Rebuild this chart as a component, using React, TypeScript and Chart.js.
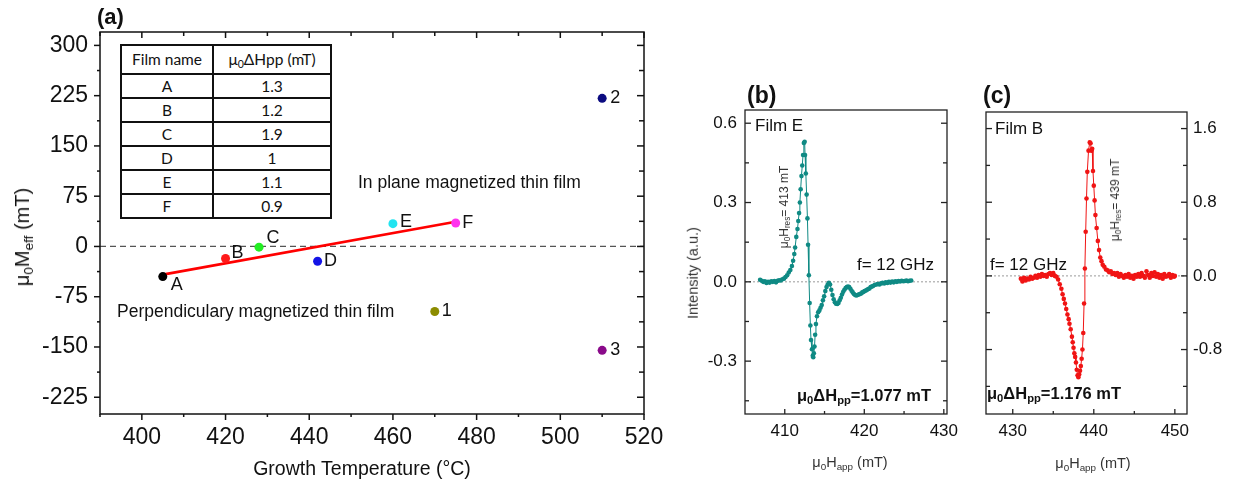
import React, { useEffect, useRef } from 'react';
import { Chart, registerables } from 'chart.js';

Chart.register(...registerables);

const FONT = "'Liberation Sans', Arial, Helvetica, sans-serif";
const TABLE_FONT = "Lato, 'Open Sans', sans-serif";

// ---------------- Panel (a) data ----------------
const filmNames = ['A', 'B', 'C', 'D', 'E', 'F', '1', '2', '3'];
const growthTemp = [405, 420, 428, 442, 460, 475, 470, 510, 510];
const mEff = [-45, -18, -1, -22, 34, 35, -97, 221, -155];
const pointColors = ['#000000', '#ff1a1a', '#22ee22', '#1414e6', '#22e4f0', '#ff33ee', '#8c8c00', '#0b0b80', '#8a0a8a'];
const fitTemp = [405, 475];
const fitMEff = [-42, 37];
const aXTicks = [400, 420, 440, 460, 480, 500, 520];
const aXMinor = [390, 410, 430, 450, 470, 490, 510];
const aYTicks = [-225, -150, -75, 0, 75, 150, 225, 300];
const aYMinor = [-187.5, -112.5, -37.5, 37.5, 112.5, 187.5, 262.5];
const aXRange = [390, 520];
const aYRange = [-250, 320];

const tableFilms = ['A', 'B', 'C', 'D', 'E', 'F'];
const tableWidths = ['1.3', '1.2', '1.9', '1', '1.1', '0.9'];

// ---------------- Panel (b) data : Film E ----------------
const filmEField = [
  406.9, 407.1, 407.3, 407.5, 407.7, 407.9, 408.1, 408.3, 408.5, 408.7, 408.9, 409.1, 409.3, 409.5,
  409.7, 409.9, 410.1, 410.3, 410.5, 410.7, 410.9, 411.05, 411.2, 411.3, 411.45, 411.6, 411.7, 411.8,
  411.9, 412.0, 412.1, 412.2, 412.3, 412.4, 412.5, 412.55, 412.65, 412.75, 412.85, 412.93, 413.03,
  413.13, 413.22, 413.3, 413.42, 413.52, 413.58, 413.66, 413.74, 413.82, 413.92, 414.05, 414.2, 414.35,
  414.5, 414.65, 414.8, 414.95, 415.1, 415.25, 415.4, 415.55, 415.7, 415.85, 416.0, 416.15, 416.3,
  416.45, 416.6, 416.75, 416.9, 417.05, 417.2, 417.35, 417.5, 417.65, 417.8, 417.95, 418.1, 418.25,
  418.4, 418.55, 418.7, 418.85, 419.0, 419.15, 419.3, 419.45, 419.6, 419.75, 419.9, 420.05, 420.2,
  420.35, 420.5, 420.65, 420.8, 420.95, 421.1, 421.3, 421.5, 421.7, 421.9, 422.1, 422.3, 422.5, 422.7,
  422.9, 423.1, 423.3, 423.5, 423.7, 423.9, 424.1, 424.3, 424.5, 424.7, 424.9, 425.1, 425.3, 425.5,
  425.7, 425.9,
];
const filmEIntensity = [
  0.008, 0.004, 0.0, 0.002, -0.004, 0.0, -0.003, 0.002, 0.0, 0.003, -0.002, 0.004, 0.006, 0.005,
  0.01, 0.012, 0.018, 0.025, 0.035, 0.045, 0.06, 0.08, 0.105, 0.13, 0.17, 0.2, 0.23, 0.26,
  0.3, 0.35, 0.4, 0.44, 0.48, 0.525, 0.53, 0.48, 0.41, 0.33, 0.24, 0.14, 0.025,
  -0.08, -0.165, -0.22, -0.255, -0.28, -0.285, -0.27, -0.245, -0.2, -0.16, -0.13, -0.115, -0.108,
  -0.098, -0.088, -0.07, -0.055, -0.035, -0.02, -0.01, -0.004, -0.01, -0.03, -0.05, -0.066, -0.077,
  -0.083, -0.084, -0.08, -0.07, -0.06, -0.048, -0.038, -0.03, -0.024, -0.02, -0.018, -0.02, -0.026,
  -0.034, -0.04, -0.046, -0.05, -0.052, -0.05, -0.048, -0.046, -0.044, -0.04, -0.038, -0.035, -0.033,
  -0.03, -0.027, -0.025, -0.02, -0.018, -0.016, -0.012, -0.01, -0.008, -0.01, -0.006, -0.004, -0.006, -0.002,
  -0.004, 0.0, -0.003, 0.001, -0.002, 0.002, 0.0, 0.003, 0.001, 0.004, 0.002, 0.003, 0.005, 0.002,
  0.004, 0.005,
];
const bXTicks = [410, 420, 430];
const bXMinor = [415, 425];
const bYTicks = [-0.3, 0, 0.3, 0.6];
const bYMinor = [-0.45, -0.15, 0.15, 0.45];
const bXRange = [405, 430.4];
const bYRange = [-0.5, 0.65];

// ---------------- Panel (c) data : Film B ----------------
const filmBField = [
  431.0, 431.2, 431.4, 431.6, 431.8, 432.0, 432.2, 432.4, 432.6, 432.8, 433.0, 433.2, 433.4, 433.6,
  433.8, 434.0, 434.2, 434.4, 434.6, 434.8, 435.0, 435.2, 435.4, 435.6, 435.8, 436.0, 436.15, 436.3,
  436.45, 436.6, 436.75, 436.9, 437.0, 437.15, 437.3, 437.4, 437.5, 437.6, 437.7, 437.8, 437.9, 438.0,
  438.1, 438.2, 438.3, 438.4, 438.5, 438.6, 438.7, 438.8, 438.9, 439.0, 439.1, 439.2, 439.35, 439.5,
  439.6, 439.7, 439.8, 439.9, 440.0, 440.1, 440.2, 440.35, 440.5, 440.65, 440.8, 440.95, 441.1, 441.3,
  441.5, 441.7, 441.9, 442.1, 442.3, 442.5, 442.7, 442.9, 443.1, 443.3, 443.5, 443.7, 443.9, 444.1,
  444.3, 444.5, 444.7, 444.9, 445.1, 445.3, 445.5, 445.7, 445.9, 446.1, 446.3, 446.5, 446.7, 446.9,
  447.1, 447.3, 447.5, 447.7, 447.9, 448.1, 448.3, 448.5, 448.7, 448.9, 449.1, 449.3, 449.5, 449.7,
  449.9, 450.0,
];
const filmBIntensity = [
  -0.03, -0.06, -0.02, -0.05, -0.03, -0.04, -0.01, -0.03, -0.02, 0.0, -0.02, 0.01, -0.01, 0.02,
  0.0, 0.01, -0.01, 0.02, 0.03, 0.01, 0.03, 0.0, -0.01, -0.04, -0.09, -0.14, -0.2, -0.25,
  -0.3, -0.36, -0.42, -0.47, -0.52, -0.58, -0.66, -0.72, -0.78, -0.84, -0.88, -0.94, -1.02, -1.08,
  -1.1, -1.07, -1.03, -0.98, -0.9, -0.8, -0.62, -0.3, 0.08, 0.48, 0.84, 1.13, 1.36, 1.45,
  1.44, 1.36, 1.38, 1.14, 0.98, 0.82, 0.66, 0.52, 0.38, 0.28, 0.2, 0.16, 0.12, 0.1,
  0.07, 0.06, 0.04, 0.05, 0.02, 0.03, 0.01, 0.03, -0.01, 0.02, 0.0, -0.02, 0.01, -0.01,
  0.02, -0.02, 0.0, -0.03, 0.01, -0.01, 0.02, -0.01, 0.03, 0.0, -0.02, 0.05, 0.01, -0.02,
  0.03, 0.0, 0.04, -0.01, 0.02, -0.02, 0.01, -0.03, 0.02, -0.01, 0.0, 0.02, -0.02, 0.01,
  -0.01, 0.0,
];
const cXTicks = [430, 440, 450];
const cXMinor = [435, 445];
const cYTicks = [-0.8, 0, 0.8, 1.6];
const cYMinor = [-1.2, -0.4, 0.4, 1.2];
const cXRange = [426.7, 451.5];
const cYRange = [-1.5, 1.78];

// label offsets for panel (a) point names (style, not data)
const labelOffsets: [number, number][] = [
  [14, 8], [12, -5], [14, -9], [13, 0], [13, -2], [12, 0], [12, 0], [13, 0], [13, 0],
];

type Side = {
  axis: string;
  pos: 'left' | 'right' | 'top' | 'bottom';
  major: number[];
  minor: number[];
  dir: 'in' | 'out';
  majorLen: number;
  minorLen: number;
};

function framePlugin(id: string, sides: Side[], lineWidth: number, color: string) {
  return {
    id,
    afterDraw(chart: any) {
      const { ctx, chartArea: a } = chart;
      ctx.save();
      ctx.strokeStyle = color;
      ctx.lineWidth = lineWidth;
      ctx.strokeRect(a.left, a.top, a.right - a.left, a.bottom - a.top);
      for (const s of sides) {
        const scale = chart.scales[s.axis];
        const draw = (v: number, len: number) => {
          const p = scale.getPixelForValue(v);
          ctx.beginPath();
          if (s.pos === 'left') {
            const d = s.dir === 'in' ? len : -len;
            ctx.moveTo(a.left, p);
            ctx.lineTo(a.left + d, p);
          } else if (s.pos === 'right') {
            const d = s.dir === 'in' ? -len : len;
            ctx.moveTo(a.right, p);
            ctx.lineTo(a.right + d, p);
          } else if (s.pos === 'top') {
            const d = s.dir === 'in' ? len : -len;
            ctx.moveTo(p, a.top);
            ctx.lineTo(p, a.top + d);
          } else {
            const d = s.dir === 'in' ? -len : len;
            ctx.moveTo(p, a.bottom);
            ctx.lineTo(p, a.bottom + d);
          }
          ctx.stroke();
        };
        s.major.forEach((v) => draw(v, s.majorLen));
        s.minor.forEach((v) => draw(v, s.minorLen));
      }
      ctx.restore();
    },
  };
}

function linScale(o: {
  min: number;
  max: number;
  ticks: number[];
  fmt: (v: number) => string;
  size: number;
  pad: number;
  position: string;
  fitW?: number;
  fitH?: number;
}) {
  return {
    type: 'linear',
    position: o.position,
    min: o.min,
    max: o.max,
    grid: { display: false, drawTicks: false },
    border: { display: false },
    ticks: {
      autoSkip: false,
      maxRotation: 0,
      minRotation: 0,
      padding: o.pad,
      color: '#111',
      font: { family: FONT, size: o.size },
      callback: (v: any) => o.fmt(Number(v)),
    },
    afterBuildTicks: (s: any) => {
      s.ticks = o.ticks.map((v) => ({ value: v }));
    },
    afterFit: (s: any) => {
      if (o.fitW != null) s.width = o.fitW;
      if (o.fitH != null) s.height = o.fitH;
      s.paddingLeft = 0;
      s.paddingRight = 0;
      s.paddingTop = 0;
      s.paddingBottom = 0;
    },
  };
}

const baseOptions = {
  responsive: false,
  animation: false,
  events: [],
  plugins: { legend: { display: false }, tooltip: { enabled: false } },
};

function configA() {
  const points = growthTemp.map((x, i) => ({ x, y: mEff[i] }));
  const fit = fitTemp.map((x, i) => ({ x, y: fitMEff[i] }));
  const zero = aXRange.map((x) => ({ x, y: 0 }));
  const labels = {
    id: 'pointLabels',
    afterDatasetsDraw(chart: any) {
      const { ctx } = chart;
      const meta = chart.getDatasetMeta(0);
      ctx.save();
      ctx.font = `18px ${FONT}`;
      ctx.fillStyle = '#111';
      ctx.textAlign = 'center';
      ctx.textBaseline = 'middle';
      meta.data.forEach((el: any, i: number) => {
        const [dx, dy] = labelOffsets[i];
        ctx.fillText(filmNames[i], el.x + dx, el.y + dy);
      });
      ctx.restore();
    },
  };
  return {
    type: 'scatter',
    data: {
      datasets: [
        { data: points, pointRadius: 4.5, pointBackgroundColor: pointColors, pointBorderWidth: 0, showLine: false },
        { data: fit, showLine: true, borderColor: '#ff0000', borderWidth: 2.6, pointRadius: 0 },
        { data: zero, showLine: true, borderColor: '#555', borderWidth: 1.3, borderDash: [6, 4], pointRadius: 0 },
      ],
    },
    options: {
      ...baseOptions,
      layout: { padding: { top: 32, right: 36, left: 0, bottom: 0 } },
      scales: {
        x: linScale({ min: aXRange[0], max: aXRange[1], ticks: aXTicks, fmt: (v) => String(v), size: 23, pad: 10, position: 'bottom', fitH: 72 }),
        y: linScale({ min: aYRange[0], max: aYRange[1], ticks: aYTicks, fmt: (v) => String(v), size: 23, pad: 12, position: 'left', fitW: 100 }),
      },
    },
    plugins: [
      framePlugin('frameA', [
        { axis: 'y', pos: 'left', major: aYTicks, minor: aYMinor, dir: 'out', majorLen: 6, minorLen: 3 },
        { axis: 'y', pos: 'right', major: aYTicks, minor: aYMinor, dir: 'in', majorLen: 7, minorLen: 5 },
        { axis: 'x', pos: 'top', major: aXTicks, minor: aXMinor, dir: 'in', majorLen: 6, minorLen: 4 },
        { axis: 'x', pos: 'bottom', major: aXTicks, minor: aXMinor, dir: 'out', majorLen: 6, minorLen: 3 },
      ], 1.5, '#111'),
      labels,
    ],
  };
}

function configSpectrum(
  field: number[], intensity: number[], color: string,
  xr: number[], yr: number[], xt: number[], xm: number[], yt: number[], ym: number[],
  yPos: string, padding: any, yFitW: number, id: string,
) {
  const pts = field.map((x, i) => ({ x, y: intensity[i] }));
  const zero = xr.map((x) => ({ x, y: 0 }));
  return {
    type: 'scatter',
    data: {
      datasets: [
        { data: pts, showLine: true, borderColor: color, borderWidth: 1, pointRadius: 2.3, pointBackgroundColor: color, pointBorderWidth: 0 },
        { data: zero, showLine: true, borderColor: '#9a9a9a', borderWidth: 1, borderDash: [2, 2], pointRadius: 0 },
      ],
    },
    options: {
      ...baseOptions,
      layout: { padding },
      scales: {
        x: linScale({ min: xr[0], max: xr[1], ticks: xt, fmt: (v) => String(v), size: 17, pad: 7, position: 'bottom', fitH: 72 }),
        y: linScale({ min: yr[0], max: yr[1], ticks: yt, fmt: (v) => v.toFixed(1), size: 17, pad: yPos === 'left' ? 8 : 6, position: yPos, fitW: yFitW }),
      },
    },
    plugins: [
      framePlugin(id, [
        { axis: 'y', pos: 'left', major: yt, minor: ym, dir: 'in', majorLen: 6, minorLen: 4 },
        { axis: 'y', pos: 'right', major: yt, minor: ym, dir: 'in', majorLen: 6, minorLen: 4 },
        { axis: 'x', pos: 'bottom', major: xt, minor: xm, dir: 'in', majorLen: 5, minorLen: 3 },
      ], 1.3, '#222'),
    ],
  };
}

function ChartCanvas({ make, left, width }: { make: () => any; left: number; width: number }) {
  const ref = useRef<HTMLCanvasElement | null>(null);
  useEffect(() => {
    if (!ref.current) return;
    const c = new Chart(ref.current, make());
    return () => c.destroy();
  }, []);
  return (
    <canvas
      ref={ref}
      width={width}
      height={486}
      style={{ position: 'absolute', left, top: 0, width, height: 486 }}
    />
  );
}

const sub = (t: string) => (
  <sub style={{ fontSize: '0.68em', verticalAlign: '-0.28em', lineHeight: 0 }}>{t}</sub>
);

function Txt({ x, y, children, size, bold, rotate, color, center, family }: any) {
  return (
    <div
      style={{
        position: 'absolute',
        left: x,
        top: y,
        transform: `translate(${center ? '-50%' : '0'}, -50%)${rotate ? ' rotate(-90deg)' : ''}`,
        transformOrigin: center ? 'center center' : 'left center',
        whiteSpace: 'nowrap',
        fontFamily: family || FONT,
        fontSize: size,
        fontWeight: bold ? 'bold' : 'normal',
        color: color || '#111',
        lineHeight: 1,
      }}
    >
      {children}
    </div>
  );
}

function DataTable() {
  const cell: any = {
    border: '2px solid #111',
    textAlign: 'center',
    padding: 0,
    fontFamily: TABLE_FONT,
    fontSize: 15.5,
    color: '#111',
    height: 22,
    lineHeight: '22px',
  };
  return (
    <table
      style={{
        position: 'absolute',
        left: 120,
        top: 44,
        width: 212,
        borderCollapse: 'collapse',
        background: '#fff',
      }}
    >
      <tbody>
        <tr>
          <td style={{ ...cell, width: 90, height: 27, lineHeight: '27px' }}>Film name</td>
          <td style={{ ...cell, height: 27, lineHeight: '27px' }}>
            μ{sub('0')}ΔHpp (mT)
          </td>
        </tr>
        {tableFilms.map((f, i) => (
          <tr key={f}>
            <td style={cell}>{f}</td>
            <td style={cell}>{tableWidths[i]}</td>
          </tr>
        ))}
      </tbody>
    </table>
  );
}

export default function App() {
  return (
    <div
      style={{
        position: 'fixed',
        left: 0,
        top: 0,
        width: 1236,
        height: 486,
        background: '#fff',
        overflow: 'hidden',
      }}
    >
      <ChartCanvas make={configA} left={0} width={680} />
      <ChartCanvas
        make={() =>
          configSpectrum(filmEField, filmEIntensity, '#0f8a84', bXRange, bYRange, bXTicks, bXMinor, bYTicks, bYMinor,
            'left', { top: 110, right: 23, left: 0, bottom: 0 }, 85, 'frameB')
        }
        left={660}
        width={310}
      />
      <ChartCanvas
        make={() =>
          configSpectrum(filmBField, filmBIntensity, '#f01414', cXRange, cYRange, cXTicks, cXMinor, cYTicks, cYMinor,
            'right', { top: 112, right: 0, left: 30, bottom: 0 }, 49, 'frameC')
        }
        left={956}
        width={280}
      />

      <DataTable />

      {/* panel (a) texts */}
      <Txt x={97} y={17} size={22} bold>(a)</Txt>
      <Txt x={22} y={237} size={20} rotate center>
        μ{sub('0')}M{sub('eff')} (mT)
      </Txt>
      <Txt x={362} y={469} size={19.5} center>Growth Temperature (°C)</Txt>
      <Txt x={358} y={183} size={17.5}>In plane magnetized thin film</Txt>
      <Txt x={117} y={312} size={17.5}>Perpendiculary magnetized thin film</Txt>

      {/* panel (b) texts */}
      <Txt x={747} y={95} size={23} bold>(b)</Txt>
      <Txt x={693} y={273} size={14.5} rotate center color="#333">Intensity (a.u.)</Txt>
      <Txt x={850} y={462} size={14.5} center color="#333">
        μ{sub('0')}H{sub('app')} (mT)
      </Txt>
      <Txt x={755} y={125} size={17}>Film E</Txt>
      <Txt x={857} y={264} size={17}>f= 12 GHz</Txt>
      <Txt x={797} y={395} size={16.5} bold>
        μ{sub('0')}ΔH{sub('pp')}=1.077 mT
      </Txt>
      <Txt x={784} y={207} size={12} rotate center color="#333">
        μ{sub('0')}H{sub('res')}= 413 mT
      </Txt>

      {/* panel (c) texts */}
      <Txt x={983} y={95} size={23} bold>(c)</Txt>
      <Txt x={1093} y={463} size={14.5} center color="#333">
        μ{sub('0')}H{sub('app')} (mT)
      </Txt>
      <Txt x={995} y={128} size={17}>Film B</Txt>
      <Txt x={990} y={264} size={17}>f= 12 GHz</Txt>
      <Txt x={987} y={393} size={16.5} bold>
        μ{sub('0')}ΔH{sub('pp')}=1.176 mT
      </Txt>
      <Txt x={1115} y={200} size={12} rotate center color="#333">
        μ{sub('0')}H{sub('res')}= 439 mT
      </Txt>
    </div>
  );
}
